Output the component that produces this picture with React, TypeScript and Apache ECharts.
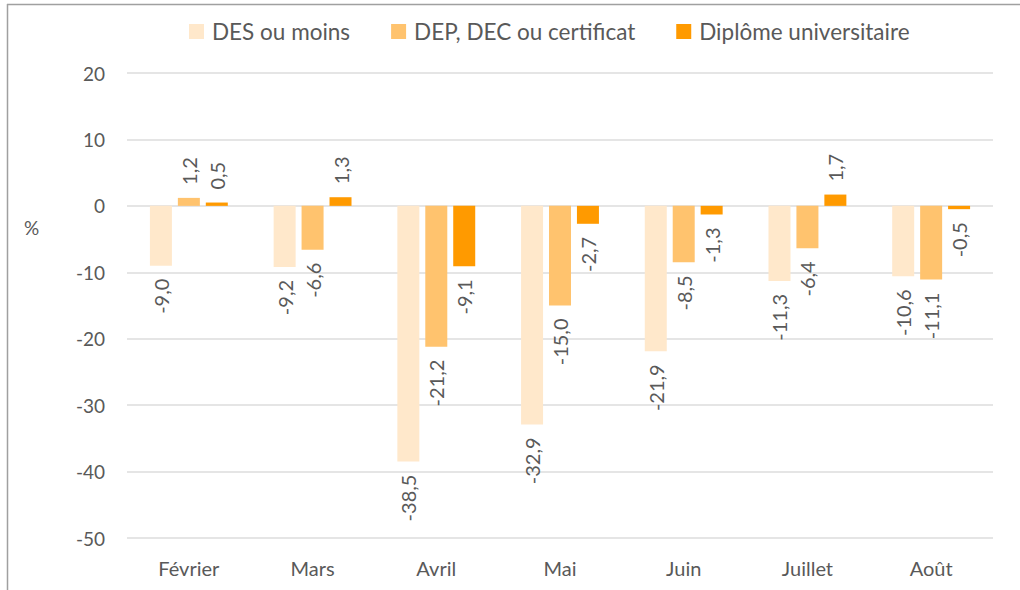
import React, { useEffect, useRef } from "react";
import * as echarts from "echarts";

const categories = ["Février", "Mars", "Avril", "Mai", "Juin", "Juillet", "Août"];
const seriesNames = ["DES ou moins", "DEP, DEC ou certificat", "Diplôme universitaire"];
const desValues = [-9.0, -9.2, -38.5, -32.9, -21.9, -11.3, -10.6];
const depValues = [1.2, -6.6, -21.2, -15.0, -8.5, -6.4, -11.1];
const uniValues = [0.5, 1.3, -9.1, -2.7, -1.3, 1.7, -0.5];
const colors = ["#FFE8CB", "#FFC36E", "#FF9A00"];
const yMin = -50;
const yMax = 20;
const yInterval = 10;

const FONT = "Lato";
const TEXT = "#595959";

function fmt(v: number) {
  return v.toFixed(1).replace(".", ",");
}

function makeSeries(name: string, values: number[], color: string) {
  return {
    name,
    type: "bar",
    barWidth: 22,
    barGap: "27%",
    itemStyle: { color },
    data: values.map((v) => ({
      value: v,
      label: { align: v < 0 ? "right" : "left" },
    })),
    label: {
      show: true,
      position: "outside",
      rotate: 90,
      distance: 13,
      verticalAlign: "middle",
      color: TEXT,
      fontFamily: FONT,
      fontSize: 20,
      formatter: (p: any) => fmt(p.value),
    },
  };
}

export default function App() {
  const ref = useRef<HTMLDivElement>(null);
  useEffect(() => {
    if (!ref.current) return;
    const chart = echarts.init(ref.current, null, { renderer: "svg" });
    chart.setOption({
      animation: false,
      backgroundColor: "#ffffff",
      textStyle: { fontFamily: FONT },
      legend: {
        left: 184,
        top: 15,
        itemWidth: 15,
        itemHeight: 15,
        itemGap: 41,
        icon: "rect",
        textStyle: { color: TEXT, fontSize: 22.5, fontFamily: FONT, padding: [0, 0, 0, 3] },
        data: seriesNames,
      },
      grid: { left: 127, right: 27, top: 73, bottom: 52, containLabel: false },
      xAxis: {
        type: "category",
        data: categories,
        axisLine: { show: false },
        axisTick: { show: false },
        axisLabel: { color: TEXT, fontSize: 20, fontFamily: FONT, margin: 20 },
      },
      yAxis: {
        type: "value",
        min: yMin,
        max: yMax,
        interval: yInterval,
        axisLine: { show: false },
        axisTick: { show: false },
        axisLabel: { color: TEXT, fontSize: 19, fontFamily: FONT, margin: 22 },
        splitLine: { lineStyle: { color: "#DCDCDC", width: 1.5 } },
      },
      graphic: [
        {
          type: "text",
          left: 24,
          top: 218,
          style: { text: "%", fill: TEXT, fontSize: 19, fontFamily: FONT },
        },
        {
          type: "line",
          shape: { x1: 7, y1: 4.5, x2: 1020, y2: 4.5 },
          style: { stroke: "#A0A0A0", lineWidth: 1.5 },
        },
        {
          type: "line",
          shape: { x1: 7.5, y1: 4, x2: 7.5, y2: 590 },
          style: { stroke: "#A0A0A0", lineWidth: 1.5 },
        },
      ],
      series: [
        makeSeries(seriesNames[0], desValues, colors[0]),
        makeSeries(seriesNames[1], depValues, colors[1]),
        makeSeries(seriesNames[2], uniValues, colors[2]),
      ],
    });
    return () => chart.dispose();
  }, []);
  return (
    <div
      ref={ref}
      style={{ position: "absolute", left: 0, top: 0, width: 1020, height: 590, background: "#fff" }}
    />
  );
}
